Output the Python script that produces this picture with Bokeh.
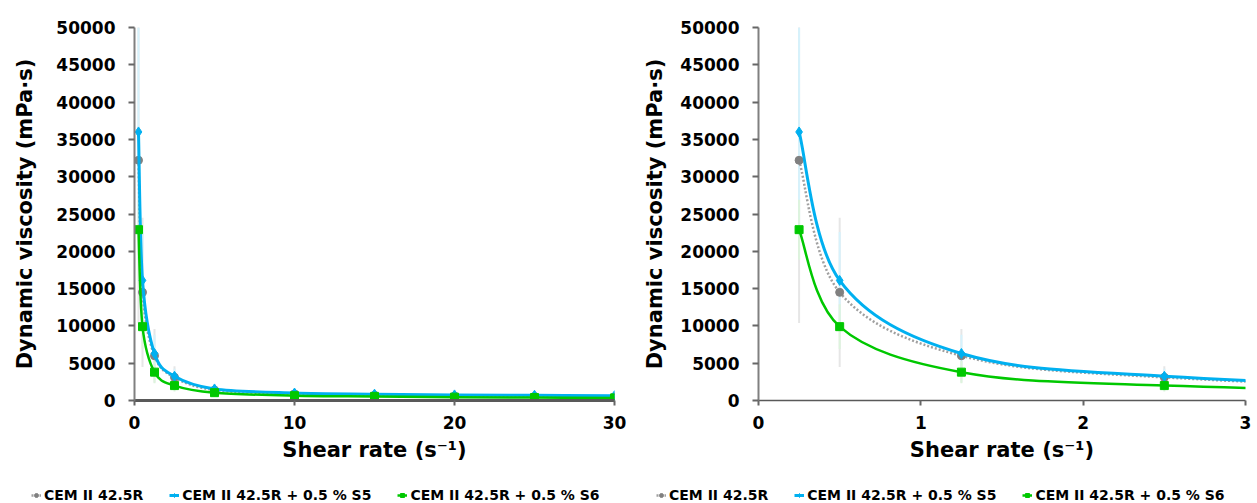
from bokeh.plotting import figure
from bokeh.models import Legend, LegendItem, ColumnDataSource, FixedTicker
from bokeh.layouts import row, column
from bokeh.embed import file_html
from bokeh.resources import INLINE

# ---- data ----
shear_rate = [0.25, 0.5, 1.25, 2.5, 5, 10, 15, 20, 25, 30]
series_names = ["CEM II 42.5R", "CEM II 42.5R + 0.5 % S5", "CEM II 42.5R + 0.5 % S6"]
visc_ref = [32200, 14500, 6000, 3100, 1400, 900, 700, 600, 550, 500]
visc_s5 = [36000, 16100, 6300, 3250, 1550, 1000, 850, 750, 700, 650]
visc_s6 = [22900, 9900, 3800, 2000, 1050, 650, 550, 450, 400, 350]
err_ref = [21800, 10000, 3600, 1500, 600, 300, 200, 150, 100, 100]
err_s5 = [14000, 6500, 2500, 1000, 500, 300, 200, 200, 200, 200]
err_s6 = [4000, 3000, 1500, 800, 400, 200, 200, 200, 200, 200]
y_ticks = [0, 5000, 10000, 15000, 20000, 25000, 30000, 35000, 40000, 45000, 50000]
x_ticks_full = [0, 10, 20, 30]
x_ticks_zoom = [0, 1, 2, 3]

FONT = "DejaVu Sans"
styles = [
    dict(line="#A0A0A0", dash="2 2", lw=2.5, marker="circle", msize=8, mcol="#808080", err="#E6E6E6"),
    dict(line="#00B0F0", dash="solid", lw=3, marker="diamond", msize=10, mcol="#00B0F0", err="#D6F2FC"),
    dict(line="#00C800", dash="solid", lw=2.5, marker="square", msize=8, mcol="#00C800", err="#DDF4DD"),
]
values = [visc_ref, visc_s5, visc_s6]
errors = [err_ref, err_s5, err_s6]


def smooth_source(xs, ys):
    # Bezier control points (Catmull-Rom style) so the line passes through every data point
    n = len(xs)
    d = dict(x0=[], y0=[], x1=[], y1=[], cx0=[], cy0=[], cx1=[], cy1=[])
    for i in range(n - 1):
        xm, ym = (xs[i - 1], ys[i - 1]) if i > 0 else (xs[i], ys[i])
        xp, yp = (xs[i + 2], ys[i + 2]) if i + 2 < n else (xs[i + 1], ys[i + 1])
        d["x0"].append(xs[i]); d["y0"].append(ys[i])
        d["x1"].append(xs[i + 1]); d["y1"].append(ys[i + 1])
        d["cx0"].append(xs[i] + (xs[i + 1] - xm) / 6.0)
        d["cy0"].append(ys[i] + (ys[i + 1] - ym) / 6.0)
        d["cx1"].append(xs[i + 1] - (xp - xs[i]) / 6.0)
        d["cy1"].append(ys[i + 1] - (yp - ys[i]) / 6.0)
    return ColumnDataSource(d)


def make_chart(xmax, xticks, width, bl, br, bt, bb, ylab_standoff, axis_w):
    p = figure(width=width, height=470, x_range=(0, xmax), y_range=(0, 50000),
               output_backend="svg", toolbar_location=None,
               min_border_left=bl, min_border_right=br, min_border_top=bt, min_border_bottom=bb)
    p.outline_line_color = None
    p.grid.visible = False

    for vals, errs, st in zip(values, errors, styles):
        lo = [v - e for v, e in zip(vals, errs)]
        hi = [v + e for v, e in zip(vals, errs)]
        p.segment(x0=shear_rate, y0=lo, x1=shear_rate, y1=hi, line_color=st["err"], line_width=2)

    for vals, st in zip(values, styles):
        src = smooth_source(shear_rate, vals)
        p.bezier(x0="x0", y0="y0", x1="x1", y1="y1", cx0="cx0", cy0="cy0", cx1="cx1", cy1="cy1",
                 source=src, line_color=st["line"], line_width=st["lw"], line_dash=st["dash"])
        p.scatter(shear_rate, vals, marker=st["marker"], size=st["msize"],
                  fill_color=st["mcol"], line_color=st["mcol"])

    p.xaxis.ticker = FixedTicker(ticks=xticks)
    p.yaxis.ticker = FixedTicker(ticks=y_ticks)
    p.xaxis.minor_tick_line_color = None
    p.yaxis.minor_tick_line_color = None
    for ax in (p.xaxis, p.yaxis):
        ax.major_tick_in = 0
        ax.major_tick_out = 6
        ax.major_tick_line_color = "#666666"
        ax.major_tick_line_width = 2
        ax.major_label_text_font = FONT
        ax.major_label_text_font_style = "bold"
        ax.major_label_text_font_size = "17px"
        ax.major_label_text_color = "black"
        ax.axis_label_text_font = FONT
        ax.axis_label_text_font_style = "bold"
        ax.axis_label_text_font_size = "21px"
        ax.axis_label_text_color = "black"
    p.xaxis.major_tick_out = 5
    p.xaxis.axis_line_color = "#595959"
    p.xaxis.axis_line_width = axis_w
    p.yaxis.axis_line_color = "#808080"
    p.yaxis.axis_line_width = 2
    p.xaxis.major_label_standoff = 10
    p.yaxis.major_label_standoff = 13
    p.xaxis.axis_label = "Shear rate (s\u207b\u00b9)"
    p.yaxis.axis_label = "Dynamic viscosity (mPa\u00b7s)"
    p.xaxis.axis_label_standoff = 6
    p.yaxis.axis_label_standoff = ylab_standoff
    return p


def make_legend(width, x_off):
    # legend strip: the same series are drawn, but the (negative) view range keeps them out of sight
    q = figure(width=width, height=33, x_range=(-2, -1), y_range=(-2, -1),
               output_backend="svg", toolbar_location=None,
               min_border_left=0, min_border_right=0, min_border_top=0, min_border_bottom=0)
    q.axis.visible = False
    q.grid.visible = False
    q.outline_line_color = None
    items = []
    for name, vals, st in zip(series_names, values, styles):
        ln = q.line(x=shear_rate, y=vals, line_color=st["line"], line_width=st["lw"], line_dash=st["dash"])
        sc = q.scatter(x=shear_rate, y=vals, marker=st["marker"], size=st["msize"] - 2,
                       fill_color=st["mcol"], line_color=st["mcol"])
        items.append(LegendItem(label=name, renderers=[ln, sc]))
    legend = Legend(items=items, orientation="horizontal", location=(x_off, 0),
                    background_fill_alpha=0, border_line_color=None, padding=0, margin=0,
                    spacing=26, glyph_width=10, glyph_height=14, label_height=14, label_standoff=3,
                    label_text_font=FONT, label_text_font_style="bold", label_text_font_size="14px",
                    label_text_color="black")
    q.add_layout(legend, "center")
    return q


p1 = make_chart(30, x_ticks_full, 640, 134, 26, 25, 67, 16, 3)
p2 = make_chart(3, x_ticks_zoom, 617, 116, 12, 27, 70, 10, 1.5)
l1 = make_legend(640, 31)
l2 = make_legend(617, 16)
layout = column(row(p1, p2), row(l1, l2))

open("out.html", "w").write(file_html(layout, INLINE))
